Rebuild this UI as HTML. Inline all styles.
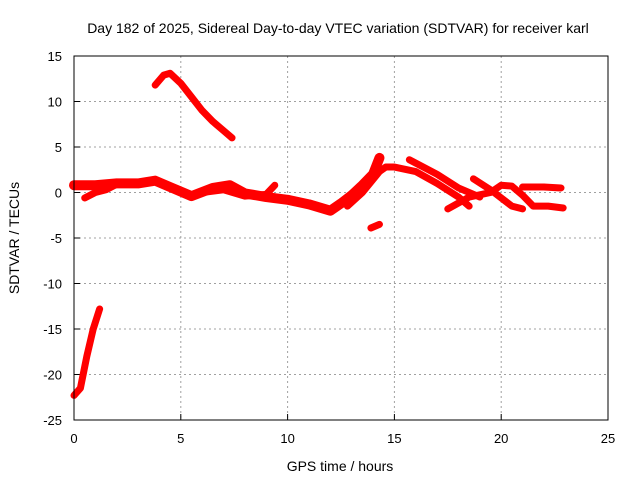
<!DOCTYPE html>
<html><head><meta charset="utf-8"><style>
body{margin:0;background:#fff;}
svg{display:block;font-family:"Liberation Sans",sans-serif;}
</style></head><body>
<svg id="chart" width="640" height="480">
<text x="338" y="33" font-size="14" text-anchor="middle">Day 182 of 2025, Sidereal Day-to-day VTEC variation (SDTVAR) for receiver karl</text>
<text x="340" y="471" font-size="14" text-anchor="middle">GPS time / hours</text>
<text transform="translate(19,238) rotate(-90)" font-size="14" text-anchor="middle">SDTVAR / TECUs</text>
<g id="grid"></g>
<g id="ticks"></g>
<g id="series"></g>
<rect x="74" y="56" width="534" height="364" fill="none" stroke="#000" stroke-width="1"/>
</svg>
<script>
const xTicks=[0,5,10,15,20,25];
const yTicks=[15,10,5,0,-5,-10,-15,-20,-25];
const s1=[[0,-22.3],[0.3,-21.5],[0.6,-18],[0.9,-15],[1.2,-12.8]];
const s2=[[3.8,11.8],[4.2,12.9],[4.5,13.1],[5,12],[5.5,10.5],[6,9],[6.5,7.8],[7,6.8],[7.4,6]];
const s3=[[0,0.8],[1,0.8],[2,1],[3,1],[3.8,1.3],[4.5,0.6],[5.5,-0.4],[6.5,0.5],[7.3,0.8],[8,-0.1],[9,-0.5],[10,-0.8],[11,-1.3],[12,-2],[12.5,-1.2],[13,-0.3],[13.5,0.8],[14,2],[14.3,3.8]];
const s3b=[[6,0],[7,0.3],[8,-0.4],[9,-0.2],[9.4,0.8]];
const s4=[[0.5,-0.6],[1,0],[1.5,0.3],[2,0.9]];
const s5=[[13.9,-3.9],[14.3,-3.5]];
const s6=[[12.8,-1.5],[13.5,0],[14.3,2.3],[14.6,2.8],[15,2.8],[16,2.3],[17,1],[18,-0.5],[18.5,-1.5]];
const s7=[[15.7,3.6],[17,2],[18,0.5],[19,-0.5]];
const s8=[[17.5,-1.8],[18.5,-0.5],[19.5,0],[20,0.8],[20.5,0.7],[21,-0.3],[21.5,-1.5],[22.2,-1.5],[22.9,-1.7]];
const s9=[[18.7,1.5],[19.5,0.3],[20.5,-1.5],[21,-1.8]];
const s10=[[21,0.6],[22,0.6],[22.8,0.5]];
const allSeries=[s1,s2,s3,s3b,s4,s5,s6,s7,s8,s9,s10];
const X=v=>74+v*534/25, Y=v=>56+(15-v)*364/40;
const NS="http://www.w3.org/2000/svg";
const grid=document.getElementById('grid'),ticks=document.getElementById('ticks'),ser=document.getElementById('series');
function mk(tag,attrs,parent){const e=document.createElementNS(NS,tag);for(const k in attrs)e.setAttribute(k,attrs[k]);parent.appendChild(e);return e;}
xTicks.forEach(t=>{
 if(t>0&&t<25){const l=mk('line',{x1:X(t),x2:X(t),y1:56,y2:420,stroke:'#a0a0a0','stroke-dasharray':'2,3'},grid);
 
 }
 const tk=mk('text',{x:X(t),y:443,'font-size':13,'text-anchor':'middle'},ticks);tk.textContent=t;
 
 
 mk('line',{x1:X(t),x2:X(t),y1:420,y2:414,stroke:'#000'},ticks);
});
yTicks.forEach(t=>{
 if(t>-25&&t<15){const l=mk('line',{x1:74,x2:608,y1:Y(t),y2:Y(t),stroke:'#a0a0a0','stroke-dasharray':'2,3'},grid);
 
 }
 const tk=mk('text',{x:62,y:Y(t)+5,'font-size':13,'text-anchor':'end'},ticks);tk.textContent=t;
 
 
 mk('line',{x1:74,x2:80,y1:Y(t),y2:Y(t),stroke:'#000'},ticks);
});
allSeries.forEach((s,i)=>{
 const p=mk('polyline',{points:s.map(d=>X(d[0])+','+Y(d[1])).join(' '),fill:'none',stroke:'#ff0000','stroke-width':i===2?10:7,'stroke-linejoin':'round','stroke-linecap':'round'},ser);
 
 
});
</script>
</body></html>
